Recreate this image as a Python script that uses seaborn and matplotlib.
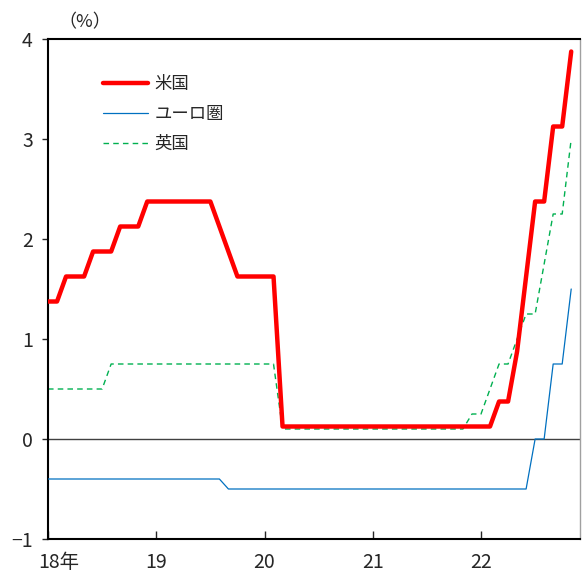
import numpy as np
import pandas as pd
from matplotlib import pyplot as plt
from matplotlib.lines import Line2D
from matplotlib.transforms import ScaledTranslation
import seaborn as sns

# monthly policy rates, Jan 2018 - Nov 2022 (%)
months = pd.period_range('2018-01', '2022-11', freq='M')

us_rate = [1.375, 1.375, 1.625, 1.625, 1.625, 1.875, 1.875, 1.875, 2.125, 2.125, 2.125, 2.375,
           2.375, 2.375, 2.375, 2.375, 2.375, 2.375, 2.375, 2.125, 1.875, 1.625, 1.625, 1.625,
           1.625, 1.625, 0.125, 0.125, 0.125, 0.125, 0.125, 0.125, 0.125, 0.125, 0.125, 0.125,
           0.125, 0.125, 0.125, 0.125, 0.125, 0.125, 0.125, 0.125, 0.125, 0.125, 0.125, 0.125,
           0.125, 0.125, 0.375, 0.375, 0.875, 1.625, 2.375, 2.375, 3.125, 3.125, 3.875]

euro_rate = [-0.4, -0.4, -0.4, -0.4, -0.4, -0.4, -0.4, -0.4, -0.4, -0.4, -0.4, -0.4,
             -0.4, -0.4, -0.4, -0.4, -0.4, -0.4, -0.4, -0.4, -0.5, -0.5, -0.5, -0.5,
             -0.5, -0.5, -0.5, -0.5, -0.5, -0.5, -0.5, -0.5, -0.5, -0.5, -0.5, -0.5,
             -0.5, -0.5, -0.5, -0.5, -0.5, -0.5, -0.5, -0.5, -0.5, -0.5, -0.5, -0.5,
             -0.5, -0.5, -0.5, -0.5, -0.5, -0.5, 0.0, 0.0, 0.75, 0.75, 1.5]

uk_rate = [0.5, 0.5, 0.5, 0.5, 0.5, 0.5, 0.5, 0.75, 0.75, 0.75, 0.75, 0.75,
           0.75, 0.75, 0.75, 0.75, 0.75, 0.75, 0.75, 0.75, 0.75, 0.75, 0.75, 0.75,
           0.75, 0.75, 0.1, 0.1, 0.1, 0.1, 0.1, 0.1, 0.1, 0.1, 0.1, 0.1,
           0.1, 0.1, 0.1, 0.1, 0.1, 0.1, 0.1, 0.1, 0.1, 0.1, 0.1, 0.25,
           0.25, 0.5, 0.75, 0.75, 1.0, 1.25, 1.25, 1.75, 2.25, 2.25, 3.0]

labels = ['米国', 'ユーロ圏', '英国']
year_ticks = [2018, 2019, 2020, 2021, 2022]
year_labels = ['18年', '19', '20', '21', '22']

sns.set_style('white')
plt.rcParams['font.family'] = ['Noto Sans CJK JP', 'DejaVu Sans']

x = months.year + (months.month - 1) / 12

fig = plt.figure(figsize=(5.82, 5.72), dpi=100)
ax = fig.add_axes([48 / 582, 33 / 572, 532 / 582, 500 / 572])

ax.axhline(0, color='#404040', linewidth=1.0, zorder=1)
sns.lineplot(x=x, y=uk_rate, ax=ax, color='#00b050', linewidth=1.0, linestyle=(0, (4, 3)), zorder=2)
sns.lineplot(x=x, y=euro_rate, ax=ax, color='#0070c0', linewidth=0.9, zorder=3)
sns.lineplot(x=x, y=us_rate, ax=ax, color='#ff0000', linewidth=3.2, zorder=4)

ax.set_xlim(2018, 2018 + 532 / 108.25)
ax.set_ylim(-1, 4)
ax.set_yticks([-1, 0, 1, 2, 3, 4])
ax.set_xticks(year_ticks)
ax.set_xticklabels(year_labels)
ax.tick_params(axis='y', direction='out', length=4, width=1, labelsize=14, pad=7, left=True)
ax.tick_params(axis='x', direction='in', length=6, width=1, labelsize=14, pad=9, bottom=True)

# shift "18年" so the digits sit on the tick
lbl = ax.get_xticklabels()[0]
lbl.set_transform(lbl.get_transform() + ScaledTranslation(11 / 100, 0, fig.dpi_scale_trans))

for side in ['left', 'bottom', 'top']:
    ax.spines[side].set_color('black')
    ax.spines[side].set_linewidth(1.5)
ax.spines['right'].set_color('#a0a0a0')
ax.spines['right'].set_linewidth(1.0)

ax.set_xlabel('')
ax.set_ylabel('')
fig.text(85 / 582, 1 - 22 / 572, '（%）', ha='center', va='center', fontsize=13)

handles = [Line2D([], [], color='#ff0000', linewidth=3.2),
           Line2D([], [], color='#0070c0', linewidth=0.9),
           Line2D([], [], color='#00b050', linewidth=1.0, linestyle=(0, (4, 3)))]
ax.legend(handles, labels, loc='upper left', bbox_to_anchor=((96 - 48) / 532, (539 - 68) / 500),
          frameon=False, fontsize=12.5, handlelength=2.6, handletextpad=0.35, labelspacing=0.7,
          borderaxespad=0)

fig.savefig('out.png', dpi=100)
